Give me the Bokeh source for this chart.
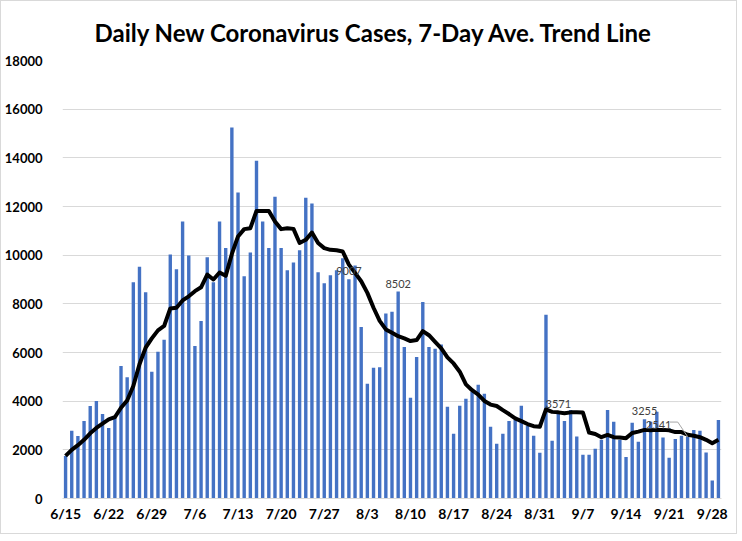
from datetime import date, timedelta
from bokeh.plotting import figure
from bokeh.models import ColumnDataSource, FixedTicker, Range1d
from bokeh.embed import file_html
from bokeh.resources import INLINE
from bokeh.core.properties import value

start = date(2020, 6, 15)
days = [(start + timedelta(days=i)) for i in range(107)]
day_labels = [f"{d.month}/{d.day}" for d in days]

daily_cases = [
    1750, 2780, 2570, 3190, 3800, 4010, 3470, 2900, 3350, 5450,
    4980, 8890, 9520, 8480, 5210, 6030, 6520, 10030, 9420, 11380,
    9990, 6270, 7290, 9910, 8890, 11380, 10290, 15250, 12580, 9130,
    10110, 13880, 11380, 10290, 12400, 10290, 9380, 9700, 10200, 12360,
    12120, 9300, 8850, 9170, 9380, 9870, 9007, 9580, 7050, 4720,
    5370, 5390, 7600, 7670, 8502, 6230, 4140, 5820, 8080, 6230,
    6150, 6330, 3770, 2660, 3810, 4100, 4380, 4670, 4300, 2950,
    2250, 2660, 3190, 3230, 3810, 2990, 2580, 1880, 7550, 2370,
    3571, 3190, 3640, 2550, 1800, 1800, 2040, 2410, 3640, 3150,
    2410, 1710, 3110, 2330, 3255, 3150, 3560, 2510, 1670, 2450,
    2580, 2541, 2820, 2780, 1890, 740, 3230,
]

trend_7day = [
    1750, 2000, 2190, 2410, 2680, 2900, 3080, 3250, 3340, 3730,
    4030, 4620, 5520, 6200, 6580, 6910, 7090, 7810, 7840, 8140,
    8310, 8520, 8680, 9200, 9000, 9290, 9150, 10050, 10770, 11070,
    11110, 11820, 11820, 11820, 11380, 11070, 11110, 11080, 10500, 10630,
    10930, 10500, 10290, 10220, 10200, 10150, 9610, 9270, 8930, 8450,
    7840, 7300, 6950, 6810, 6670, 6580, 6470, 6510, 6880, 6710,
    6440, 6170, 5800, 5550, 5210, 4690, 4450, 4270, 4010, 3860,
    3800, 3630, 3470, 3290, 3180, 3060, 2970, 2950, 3660, 3560,
    3540, 3500, 3540, 3540, 3530, 2710, 2650, 2520, 2610, 2520,
    2510, 2480, 2690, 2750, 2820, 2800, 2820, 2820, 2800, 2730,
    2730, 2620, 2580, 2520, 2410, 2270, 2410,
]

tick_days = list(range(0, 106, 7))
tick_labels = ["6/15", "6/22", "6/29", "7/6", "7/13", "7/20", "7/27", "8/3",
               "8/10", "8/17", "8/24", "8/31", "9/7", "9/14", "9/21", "9/28"]
y_ticks = list(range(0, 18001, 2000))

labeled_days = [46, 54, 80, 94]
leader_day = 101

idx = list(range(len(daily_cases)))
src = ColumnDataSource(dict(x=idx, cases=daily_cases, trend=trend_7day, day=day_labels))

p = figure(frame_width=659, frame_height=438, output_backend="svg", toolbar_location=None,
           x_range=Range1d(-0.5, 106.5), y_range=Range1d(0, 18000),
           min_border_left=60, min_border_right=15, min_border_top=58, min_border_bottom=35)

p.title.text = "Daily New Coronavirus Cases, 7-Day Ave. Trend Line"
p.title.align = "left"
p.title.offset = 32
p.title.text_font = "Lato"
p.title.text_font_size = "24px"
p.title.text_font_style = "bold"
p.title.text_color = "#000000"
p.title.standoff = 28

p.vbar(x="x", top="cases", width=0.55, source=src, fill_color="#4472C4", line_color=None)
p.line(x="x", y="trend", source=src, line_color="#000000", line_width=4, line_join="round")

lab = ColumnDataSource(dict(x=labeled_days, y=[daily_cases[i] for i in labeled_days],
                            t=[str(daily_cases[i]) for i in labeled_days]))
p.text(x="x", y="y", text="t", source=lab, text_align="center", text_baseline="bottom",
       y_offset=-4, text_font=value("Lato"), text_font_size="11px", text_color="#404040")

lv = daily_cases[leader_day]
p.text(x=[leader_day], y=[lv], text=[str(lv)], x_offset=-29, y_offset=-8,
       text_align="center", text_baseline="bottom", text_font=value("Lato"),
       text_font_size="11px", text_color="#404040")
p.line(x=[leader_day - 2.9, leader_day - 1.6, leader_day], y=[lv + 600, lv + 600, lv],
       line_color="#a6a6a6", line_width=1)

p.xaxis.ticker = FixedTicker(ticks=tick_days)
p.xaxis.major_label_overrides = {d: l for d, l in zip(tick_days, tick_labels)}
p.yaxis.ticker = FixedTicker(ticks=y_ticks)
for ax in (p.xaxis[0], p.yaxis[0]):
    ax.major_tick_line_color = None
    ax.minor_tick_line_color = None
    ax.major_label_text_font = "Lato"
    ax.major_label_text_font_style = "bold"
    ax.major_label_text_color = "#000000"
p.xaxis.major_label_text_font_size = "14px"
p.yaxis.major_label_text_font_size = "13px"
p.xaxis.major_label_standoff = 0
p.yaxis.major_label_standoff = 14
p.xaxis.axis_line_color = "#d9d9d9"
p.yaxis.axis_line_color = None

p.xgrid.grid_line_color = None
p.ygrid.grid_line_color = "#d9d9d9"
p.ygrid.grid_line_width = 1
p.outline_line_color = None
p.styles = {"border": "1px solid #d9d9d9"}

open("out.html", "w").write(file_html(p, INLINE))
